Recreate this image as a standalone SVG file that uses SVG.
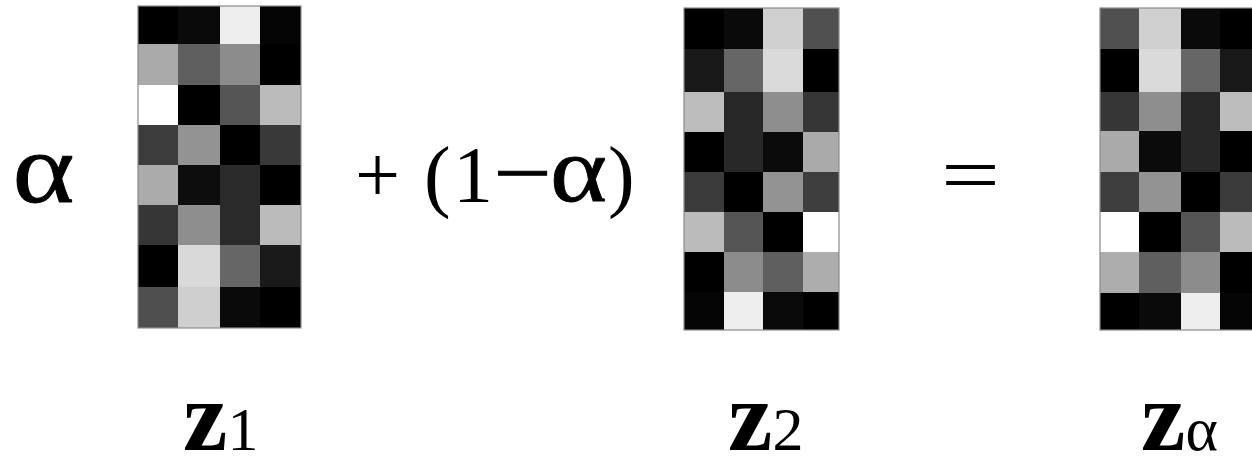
<svg xmlns="http://www.w3.org/2000/svg" width="1252" height="459" viewBox="0 0 1252 459">
<style>
text{font-family:'Liberation Serif','Times New Roman',Times,serif;fill:#000}
.b{font-weight:bold}
.frame{fill:none;stroke:#8a8a8a;stroke-width:1.2}
</style>
<rect width="1252" height="459" fill="#fff"/>
<g id="z1grid">
<rect x="138" y="6" width="40" height="38" fill="#000"/><rect x="178" y="6" width="42" height="38" fill="#0a0a0a"/><rect x="220" y="6" width="40" height="38" fill="#eeeeee"/><rect x="260" y="6" width="41" height="38" fill="#050505"/>
<rect x="138" y="44" width="40" height="41" fill="#aaaaaa"/><rect x="178" y="44" width="42" height="41" fill="#5f5f5f"/><rect x="220" y="44" width="40" height="41" fill="#8c8c8c"/><rect x="260" y="44" width="41" height="41" fill="#000"/>
<rect x="138" y="85" width="40" height="40" fill="#ffffff"/><rect x="178" y="85" width="42" height="40" fill="#000"/><rect x="220" y="85" width="40" height="40" fill="#555555"/><rect x="260" y="85" width="41" height="40" fill="#bbbbbb"/>
<rect x="138" y="125" width="40" height="40" fill="#3c3c3c"/><rect x="178" y="125" width="42" height="40" fill="#939393"/><rect x="220" y="125" width="40" height="40" fill="#000"/><rect x="260" y="125" width="41" height="40" fill="#393939"/>
<rect x="138" y="165" width="40" height="40" fill="#ababab"/><rect x="178" y="165" width="42" height="40" fill="#0d0d0d"/><rect x="220" y="165" width="40" height="40" fill="#2a2a2a"/><rect x="260" y="165" width="41" height="40" fill="#000"/>
<rect x="138" y="205" width="40" height="40" fill="#363636"/><rect x="178" y="205" width="42" height="40" fill="#8e8e8e"/><rect x="220" y="205" width="40" height="40" fill="#2a2a2a"/><rect x="260" y="205" width="41" height="40" fill="#bbbbbb"/>
<rect x="138" y="245" width="40" height="42" fill="#000"/><rect x="178" y="245" width="42" height="42" fill="#d9d9d9"/><rect x="220" y="245" width="40" height="42" fill="#666666"/><rect x="260" y="245" width="41" height="42" fill="#1a1a1a"/>
<rect x="138" y="287" width="40" height="41" fill="#4f4f4f"/><rect x="178" y="287" width="42" height="41" fill="#cfcfcf"/><rect x="220" y="287" width="40" height="41" fill="#0a0a0a"/><rect x="260" y="287" width="41" height="41" fill="#000"/>
<rect class="frame" x="138" y="6" width="163" height="322"/>
</g>
<g id="z2grid">
<rect x="684" y="8" width="40" height="41" fill="#000"/><rect x="724" y="8" width="39" height="41" fill="#0a0a0a"/><rect x="763" y="8" width="40" height="41" fill="#d0d0d0"/><rect x="803" y="8" width="36" height="41" fill="#505050"/>
<rect x="684" y="49" width="40" height="43" fill="#181818"/><rect x="724" y="49" width="39" height="43" fill="#666666"/><rect x="763" y="49" width="40" height="43" fill="#dadada"/><rect x="803" y="49" width="36" height="43" fill="#000"/>
<rect x="684" y="92" width="40" height="40" fill="#bdbdbd"/><rect x="724" y="92" width="39" height="40" fill="#282828"/><rect x="763" y="92" width="40" height="40" fill="#8e8e8e"/><rect x="803" y="92" width="36" height="40" fill="#363636"/>
<rect x="684" y="132" width="40" height="40" fill="#000"/><rect x="724" y="132" width="39" height="40" fill="#282828"/><rect x="763" y="132" width="40" height="40" fill="#0b0b0b"/><rect x="803" y="132" width="36" height="40" fill="#aaaaaa"/>
<rect x="684" y="172" width="40" height="40" fill="#3b3b3b"/><rect x="724" y="172" width="39" height="40" fill="#000"/><rect x="763" y="172" width="40" height="40" fill="#939393"/><rect x="803" y="172" width="36" height="40" fill="#3e3e3e"/>
<rect x="684" y="212" width="40" height="40" fill="#bbbbbb"/><rect x="724" y="212" width="39" height="40" fill="#555555"/><rect x="763" y="212" width="40" height="40" fill="#000"/><rect x="803" y="212" width="36" height="40" fill="#ffffff"/>
<rect x="684" y="252" width="40" height="40" fill="#000"/><rect x="724" y="252" width="39" height="40" fill="#8c8c8c"/><rect x="763" y="252" width="40" height="40" fill="#5f5f5f"/><rect x="803" y="252" width="36" height="40" fill="#adadad"/>
<rect x="684" y="292" width="40" height="38" fill="#050505"/><rect x="724" y="292" width="39" height="38" fill="#eeeeee"/><rect x="763" y="292" width="40" height="38" fill="#0a0a0a"/><rect x="803" y="292" width="36" height="38" fill="#000"/>
<rect class="frame" x="684" y="8" width="155" height="322"/>
</g>
<g id="zagrid">
<rect x="1100" y="8" width="39" height="41" fill="#505050"/><rect x="1139" y="8" width="42" height="41" fill="#d0d0d0"/><rect x="1181" y="8" width="39" height="41" fill="#0a0a0a"/><rect x="1220" y="8" width="40" height="41" fill="#000"/>
<rect x="1100" y="49" width="39" height="43" fill="#000"/><rect x="1139" y="49" width="42" height="43" fill="#dadada"/><rect x="1181" y="49" width="39" height="43" fill="#666666"/><rect x="1220" y="49" width="40" height="43" fill="#181818"/>
<rect x="1100" y="92" width="39" height="39" fill="#363636"/><rect x="1139" y="92" width="42" height="39" fill="#8e8e8e"/><rect x="1181" y="92" width="39" height="39" fill="#282828"/><rect x="1220" y="92" width="40" height="39" fill="#bdbdbd"/>
<rect x="1100" y="131" width="39" height="41" fill="#aaaaaa"/><rect x="1139" y="131" width="42" height="41" fill="#0b0b0b"/><rect x="1181" y="131" width="39" height="41" fill="#282828"/><rect x="1220" y="131" width="40" height="41" fill="#000"/>
<rect x="1100" y="172" width="39" height="40" fill="#3e3e3e"/><rect x="1139" y="172" width="42" height="40" fill="#939393"/><rect x="1181" y="172" width="39" height="40" fill="#000"/><rect x="1220" y="172" width="40" height="40" fill="#3b3b3b"/>
<rect x="1100" y="212" width="39" height="40" fill="#ffffff"/><rect x="1139" y="212" width="42" height="40" fill="#000"/><rect x="1181" y="212" width="39" height="40" fill="#555555"/><rect x="1220" y="212" width="40" height="40" fill="#bbbbbb"/>
<rect x="1100" y="252" width="39" height="41" fill="#adadad"/><rect x="1139" y="252" width="42" height="41" fill="#5f5f5f"/><rect x="1181" y="252" width="39" height="41" fill="#8c8c8c"/><rect x="1220" y="252" width="40" height="41" fill="#000"/>
<rect x="1100" y="293" width="39" height="37" fill="#000"/><rect x="1139" y="293" width="42" height="37" fill="#0a0a0a"/><rect x="1181" y="293" width="39" height="37" fill="#eeeeee"/><rect x="1220" y="293" width="40" height="37" fill="#050505"/>
<rect class="frame" x="1100" y="8" width="160" height="322"/>
</g>
<g id="equation">
<text x="12.5" y="202" font-size="100" textLength="62" lengthAdjust="spacingAndGlyphs" stroke="#000" stroke-width="0.8">α</text>
<text y="202" font-size="80"><tspan x="355">+</tspan><tspan x="424">(</tspan><tspan x="453">1</tspan></text>
<text x="493.5" y="200" font-size="80" textLength="58" lengthAdjust="spacingAndGlyphs" stroke="#000" stroke-width="1">−</text>
<text x="550" y="201" font-size="94" textLength="57" lengthAdjust="spacingAndGlyphs" stroke="#000" stroke-width="0.8">α</text>
<text x="608" y="202" font-size="80">)</text>
<text x="941" y="202" font-size="80" textLength="59" lengthAdjust="spacingAndGlyphs">=</text>
</g>
<g id="labels">
<text x="183" y="450"><tspan class="b" font-size="100">z</tspan><tspan font-size="62">1</tspan></text>
<text x="728" y="450"><tspan class="b" font-size="100">z</tspan><tspan font-size="62">2</tspan></text>
<text x="1141" y="450"><tspan class="b" font-size="100">z</tspan><tspan font-size="62">α</tspan></text>
</g>
<g id="connectors"/>
</svg>
